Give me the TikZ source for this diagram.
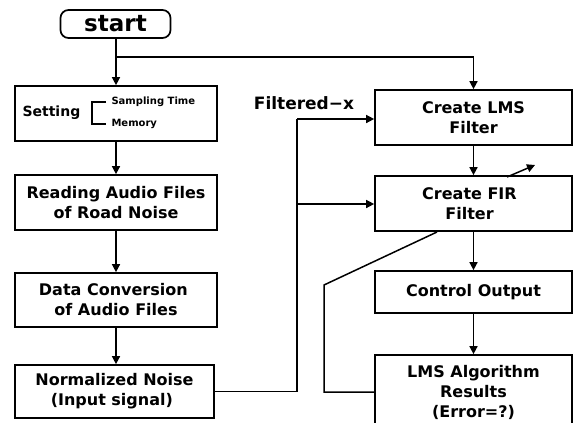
\documentclass[tikz,border=0pt]{standalone}
\usepackage{fontspec}
\setmainfont{DejaVu Sans}
\usetikzlibrary{arrows.meta,calc}
\tikzset{
  box/.style={draw, line width=1.7pt, minimum width=202pt, minimum height=55pt, inner sep=0pt, align=center, font=\fontsize{16}{20}\selectfont\bfseries},
  rbox/.style={box, minimum width=197pt},
  arr/.style={line width=1.5pt, -{Triangle[length=8pt,width=8pt]}},
  ln/.style={line width=1.5pt},
}
\begin{document}
\begin{tikzpicture}[x=1pt,y=-1pt]
\useasboundingbox (0,0) rectangle (573,423);
\clip (0,0) rectangle (573,423);
% left column
\node[draw, line width=1.7pt, rounded corners=8pt, minimum width=110pt, minimum height=28pt, inner sep=0pt, font=\fontsize{23}{23}\selectfont\bfseries] (start) at (115.5,24) {start};
\node[box] (set) at (116,113.5) {};
\node[font=\fontsize{14}{14}\selectfont\bfseries, anchor=west] (setlab) at (19,113) {Setting};
\node[font=\fontsize{10}{10}\selectfont\bfseries, anchor=west] (samp) at (108,102) {Sampling Time};
\node[font=\fontsize{10}{10}\selectfont\bfseries, anchor=west] (mem) at (108,124) {Memory};
\draw[line width=1.2pt] ($(samp.west)+(-2,0)$) coordinate (b1) -- ++(-14,0) coordinate (b2) -- (b2 |- mem.west) -- ($(mem.west)+(-2,0)$);
\node[box] (read) at (116,202.5) {Reading Audio Files\\of Road Noise};
\node[box, minimum height=54pt] (conv) at (116,300) {Data Conversion\,\,\\of Audio Files};
\node[box, minimum width=199pt, minimum height=53pt] (norm) at (114.5,391.5) {Normalized Noise\\(Input signal)\,\,};
% right column
\node[rbox] (lms) at (473.5,117.5) {Create LMS\\Filter};
\node[rbox] (fir) at (473.5,203.5) {Create FIR\,\,\,\\Filter\,\,\,};
\node[rbox, minimum height=42pt] (out) at (473.5,292) {Control Output};
\node[rbox, minimum height=74pt] (res) at (473.5,392) {LMS Algorithm\\Results\\(Error=?)};
\node[font=\fontsize{17}{17}\selectfont\bfseries] (flab) at (304,103) {Filtered−x};
% connectors
\coordinate (br) at (116,57);
\draw[arr] (start.south -| set.north) -- (set.north);
\draw[arr] (br) -| (lms.north);
\draw[arr] (set) -- (read);
\draw[arr] (read) -- (conv);
\draw[arr] (conv) -- (conv.south |- norm.north);
\draw[arr] (lms) -- (fir);
\draw[arr] (fir) -- (out);
\draw[arr] (out) -- (res);
\coordinate (fbtop) at (297,119);
\coordinate (fbmid) at (297,204);
\draw[ln] (norm.east) -- (norm.east -| fbtop) -- (fbtop);
\draw[arr] (fbtop) -- (fbtop -| lms.west);
\draw[arr] (fbmid) -- (fbmid -| fir.west);
\coordinate (c1) at (324,285);
\coordinate (c2) at (437,232);
\draw[ln] (res.west) -| (c1) -- (c2);
\coordinate (d1) at (507,177);
\coordinate (d2) at (535,165);
\draw[arr] (d1) -- (d2);
\end{tikzpicture}
\end{document}
